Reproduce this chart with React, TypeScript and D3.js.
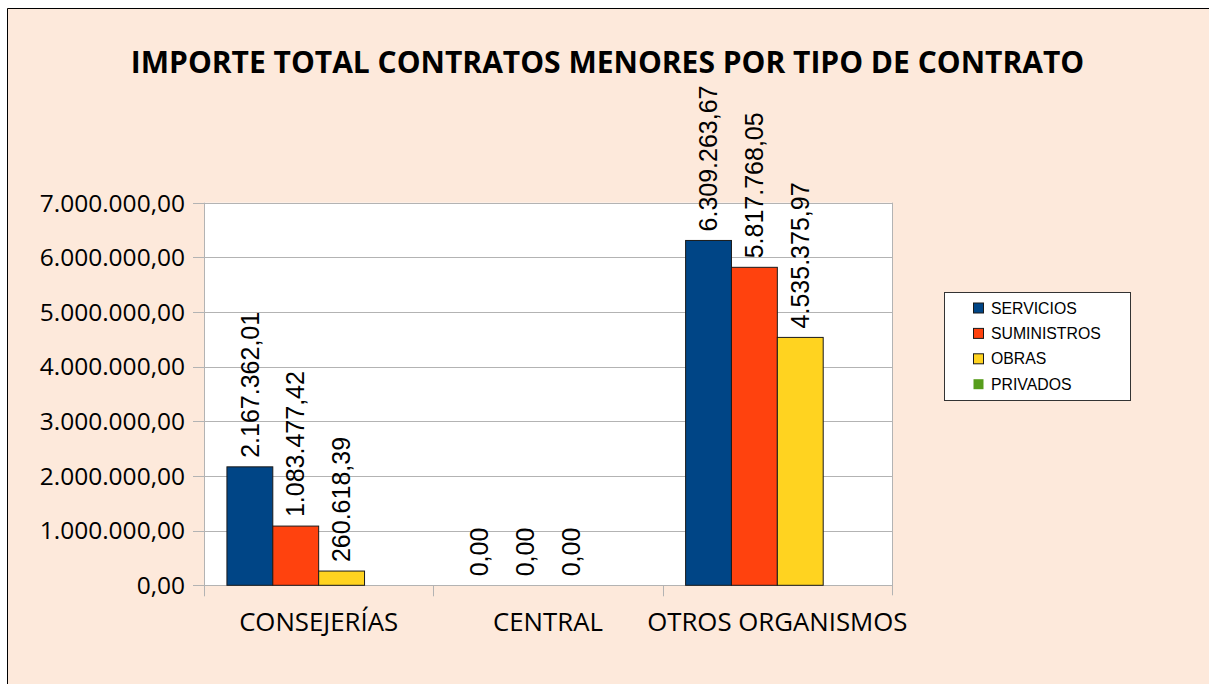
import React, { useRef, useEffect } from 'react';
import * as d3 from 'd3';

const categories = ['CONSEJERÍAS', 'CENTRAL', 'OTROS ORGANISMOS'];
const seriesNames = ['SERVICIOS', 'SUMINISTROS', 'OBRAS', 'PRIVADOS'];
const seriesColors = ['#004586', '#ff420e', '#ffd320', '#579d1c'];
const servicios = [2167362.01, 0, 6309263.67];
const suministros = [1083477.42, 0, 5817768.05];
const obras = [260618.39, 0, 4535375.97];
const privados: (number | null)[] = [null, null, null];
const yTicks = [0, 1000000, 2000000, 3000000, 4000000, 5000000, 6000000, 7000000];

const fmt = (v: number) => {
  const [int, dec] = v.toFixed(2).split('.');
  return int.replace(/\B(?=(\d{3})+(?!\d))/g, '.') + ',' + dec;
};

export default function App() {
  const ref = useRef<SVGSVGElement>(null);

  useEffect(() => {
    document.documentElement.style.overflow = 'hidden';
    document.body.style.margin = '0';

    const left = 204, right = 892, top = 202.7, bottom = 585.3;
    const sans = '"Open Sans", "Noto Sans", sans-serif';
    const arial = '"Liberation Sans", Arial, sans-serif';

    const svg = d3.select(ref.current);
    svg.selectAll('*').remove();

    // page background, frame only visible on left and top
    svg.append('rect')
      .attr('x', 7).attr('y', 8)
      .attr('width', 1202).attr('height', 676)
      .attr('fill', '#fde9db');
    svg.append('path')
      .attr('d', 'M7.5,684V8.5H1209')
      .attr('fill', 'none')
      .attr('stroke', '#000');

    svg.append('text')
      .attr('x', 607.5).attr('y', 72.5)
      .attr('text-anchor', 'middle')
      .attr('font-family', sans)
      .attr('font-weight', 'bold')
      .attr('font-size', 30)
      .attr('fill', '#000')
      .text('IMPORTE TOTAL CONTRATOS MENORES POR TIPO DE CONTRATO');

    const x0 = d3.scaleBand().domain(categories).range([left, right]).padding(0);
    const x1 = d3.scaleBand().domain(seriesNames).range([0, x0.bandwidth()])
      .paddingInner(0).paddingOuter(0.5);
    const y = d3.scaleLinear().domain([0, 7000000]).range([bottom, top]);

    svg.append('rect')
      .attr('x', left).attr('y', top)
      .attr('width', right - left).attr('height', bottom - top)
      .attr('fill', '#fff');

    // grid
    svg.append('g')
      .selectAll('line')
      .data(yTicks)
      .join('line')
      .attr('x1', left - 11).attr('x2', right)
      .attr('y1', d => Math.round(y(d)) + 0.5).attr('y2', d => Math.round(y(d)) + 0.5)
      .attr('stroke', '#b3b3b3');

    svg.append('line')
      .attr('x1', left + 0.5).attr('x2', left + 0.5)
      .attr('y1', top).attr('y2', bottom)
      .attr('stroke', '#b3b3b3');
    svg.append('line')
      .attr('x1', right + 0.5).attr('x2', right + 0.5)
      .attr('y1', top).attr('y2', bottom + 10)
      .attr('stroke', '#b3b3b3');

    // x boundary ticks
    svg.append('g')
      .selectAll('line')
      .data(categories)
      .join('line')
      .attr('x1', d => Math.round(x0(d)!) + 0.5).attr('x2', d => Math.round(x0(d)!) + 0.5)
      .attr('y1', bottom).attr('y2', bottom + 11)
      .attr('stroke', '#b3b3b3');

    svg.append('g')
      .selectAll('text')
      .data(yTicks)
      .join('text')
      .attr('x', 185).attr('y', d => y(d))
      .attr('dy', '0.36em')
      .attr('text-anchor', 'end')
      .attr('font-family', sans)
      .attr('font-size', 24.5)
      .attr('fill', '#000')
      .text(d => fmt(d));

    svg.append('g')
      .selectAll('text')
      .data(categories)
      .join('text')
      .attr('x', d => x0(d)! + x0.bandwidth() / 2).attr('y', 631)
      .attr('text-anchor', 'middle')
      .attr('font-family', sans)
      .attr('font-size', 25.8)
      .attr('fill', '#000')
      .text(d => d);

    const series = [servicios, suministros, obras, privados];
    series.forEach((vals, si) => {
      const g = svg.append('g');
      const pts = categories.map((c, i) => ({ c, v: vals[i] })).filter(d => d.v !== null) as { c: string; v: number }[];
      g.selectAll('rect')
        .data(pts.filter(d => d.v > 0))
        .join('rect')
        .attr('x', d => x0(d.c)! + x1(seriesNames[si])!)
        .attr('y', d => y(d.v))
        .attr('width', x1.bandwidth())
        .attr('height', d => bottom - y(d.v))
        .attr('fill', seriesColors[si])
        .attr('stroke', '#1a1a1a')
        .attr('stroke-width', 1);
      g.selectAll('text')
        .data(pts)
        .join('text')
        .attr('transform', d => `translate(${x0(d.c)! + x1(seriesNames[si])! + x1.bandwidth() / 2},${y(d.v) - 9}) rotate(-90)`)
        .attr('dy', '0.35em')
        .attr('text-anchor', 'start')
        .attr('font-family', arial)
        .attr('font-size', 25)
        .attr('fill', '#000')
        .text(d => fmt(d.v));
    });

    // legend
    const lg = svg.append('g');
    lg.append('rect')
      .attr('x', 944.5).attr('y', 292.5)
      .attr('width', 186).attr('height', 108)
      .attr('fill', '#fff')
      .attr('stroke', '#333');
    seriesNames.forEach((name, i) => {
      const cy = 308 + i * 25.4;
      lg.append('rect')
        .attr('x', 973.5).attr('y', cy - 5)
        .attr('width', 10).attr('height', 10)
        .attr('fill', seriesColors[i])
        .attr('stroke', i < 3 ? '#1a1a1a' : 'none');
      lg.append('text')
        .attr('x', 991).attr('y', cy)
        .attr('dy', '0.36em')
        .attr('font-family', arial)
        .attr('font-size', 15.8)
        .attr('fill', '#000')
        .text(name);
    });
  }, []);

  return (
    <svg
      ref={ref}
      width={1210}
      height={684}
      style={{ position: 'absolute', left: 0, top: 0, display: 'block' }}
    />
  );
}
